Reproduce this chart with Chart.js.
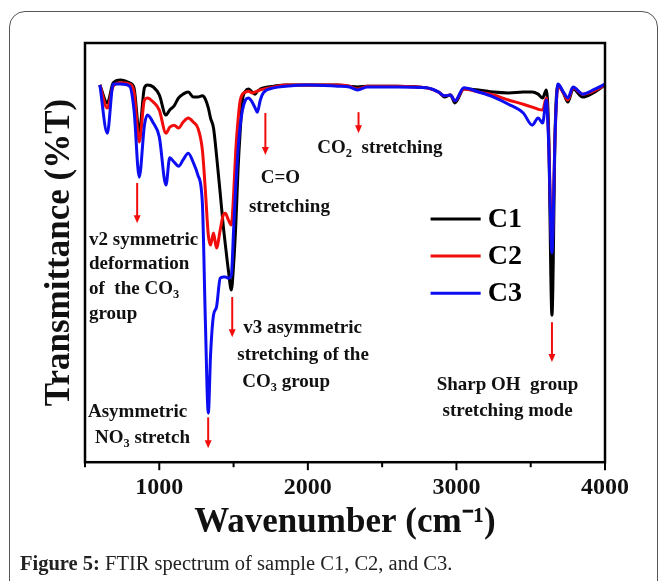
<!DOCTYPE html>
<html>
<head>
<meta charset="utf-8">
<script src="https://cdn.jsdelivr.net/npm/chart.js@4.4.1/dist/chart.umd.min.js"></script>
<style>
  html, body { margin: 0; padding: 0; background: #fff; }
  body { width: 660px; height: 581px; position: relative; overflow: hidden; }
  #frame {
    position: absolute; left: 9px; top: 11px; width: 649px; height: 620px;
    border: 1px solid #555; border-radius: 16px; box-sizing: border-box;
  }
  #chart { position: absolute; left: 0; top: 0; }
  #caption {
    position: absolute; left: 20px; top: 551px;
    font-family: 'Liberation Serif', 'Times New Roman', serif;
    font-size: 20.5px; line-height: 24px; color: #222; white-space: nowrap;
  }
</style>
</head>
<body>
<div id="frame"></div>
<canvas id="chart" width="660" height="581"></canvas>
<div id="caption"><b>Figure 5:</b> FTIR spectrum of sample C1, C2, and C3.</div>
<script>
// wavenumber grid (cm-1) shared by the three spectra
const wavenumbers = [600, 650, 690, 740, 800, 830, 865, 900, 920, 960, 1000, 1045, 1070, 1100, 1130, 1160, 1195, 1230, 1260, 1290,
  1310, 1330, 1345, 1365, 1385, 1410, 1430, 1445, 1465, 1485, 1500, 1515, 1530, 1545, 1560, 1580, 1600, 1625, 1645, 1660,
  1680, 1700, 1770, 1850, 2000, 2200, 2280, 2335, 2400, 2600, 2800, 2880, 2920, 2960, 2990, 3050, 3150, 3250, 3350, 3450,
  3510, 3550, 3580, 3605, 3620, 3643, 3665, 3683, 3720, 3750, 3785, 3850, 3920, 4000];

// transmittance (%T)
const c1 = [90.0, 85.7, 90.5, 91.2, 90.5, 89.3, 78.8, 89.3, 90.0, 89.5, 87.6, 82.8, 84.0, 85.0, 86.9, 87.8, 88.3, 87.1, 87.1, 87.4,
  86.6, 84.5, 82.1, 79.7, 73.3, 64.2, 56.6, 51.8, 45.8, 41.1, 47.0, 56.6, 69.7, 79.2, 86.4, 88.5, 89.0, 88.3, 87.8, 88.5,
  89.0, 89.3, 89.7, 90.0, 90.0, 90.0, 89.7, 89.5, 89.7, 89.7, 89.3, 88.3, 87.1, 87.6, 85.7, 89.0, 88.8, 88.3, 88.1, 88.3,
  88.3, 87.8, 86.9, 88.8, 80.0, 35.1, 80.0, 90.0, 88.1, 85.9, 89.0, 87.1, 88.1, 90.0];
const c2 = [90.0, 84.5, 89.7, 90.5, 90.2, 88.3, 76.4, 86.4, 86.9, 85.9, 84.0, 78.5, 79.9, 80.4, 79.7, 81.1, 82.1, 81.1, 79.7, 74.5,
  64.9, 54.2, 51.8, 54.7, 51.1, 55.4, 58.9, 59.4, 57.8, 56.6, 63.7, 74.5, 81.6, 86.4, 87.8, 88.3, 88.5, 88.1, 88.3, 88.5,
  88.8, 89.0, 89.5, 90.0, 90.0, 90.0, 89.7, 89.0, 89.7, 89.7, 89.3, 88.3, 87.4, 87.6, 86.2, 89.0, 88.3, 87.6, 86.4, 85.4,
  84.7, 84.2, 84.0, 86.9, 78.0, 51.8, 79.2, 89.7, 88.1, 86.4, 89.3, 87.8, 88.5, 90.0];
const c3 = [90.0, 78.5, 90.2, 90.2, 89.7, 84.0, 68.0, 80.4, 82.8, 80.9, 77.6, 66.1, 72.6, 71.6, 70.6, 72.1, 73.7, 71.4, 68.5, 61.8,
  33.9, 11.7, 25.5, 35.1, 37.0, 43.9, 44.2, 44.2, 43.9, 44.6, 55.4, 66.1, 74.5, 80.4, 84.0, 86.4, 86.9, 85.9, 84.5, 83.5,
  86.4, 88.1, 89.3, 89.7, 90.0, 89.7, 89.5, 88.8, 89.5, 89.5, 89.3, 88.3, 87.4, 87.6, 86.2, 89.3, 88.3, 87.1, 85.4, 83.3,
  80.4, 82.1, 80.9, 86.4, 76.8, 49.9, 79.2, 90.2, 88.3, 86.9, 89.5, 87.8, 88.8, 90.2];

const seriesNames = ['C1', 'C2', 'C3'];
const seriesColors = ['#000000', '#f20d0d', '#0d0df2'];

// red marker arrows: wavenumber, top and tip in %T
const arrowWn = [851, 1714, 2341, 1491, 1329, 3643];
const arrowTop = [66.6, 83.3, 83.5, 39.4, 10.7, 33.4];
const arrowTip = [57.0, 73.3, 78.5, 29.8, 3.3, 23.9];

// band labels ("_3" = subscript), anchored in data units
const labelText = ['v2 symmetric', 'deformation', 'of  the CO_3', 'group', 'C=O', 'stretching', 'CO_2  stretching',
  'v3 asymmetric', 'stretching of the', 'CO_3 group', 'Asymmetric', 'NO_3 stretch', 'Sharp OH  group', 'stretching mode'];
const labelWn = [527, 527, 527, 527, 1815, 1876, 2064, 1565, 1525, 1559, 520, 567, 2867, 2907];
const labelT = [53.0, 47.3, 41.3, 35.3, 67.8, 60.9, 74.9, 32.0, 25.5, 19.1, 11.9, 5.7, 18.4, 12.2];
const labelAlign = ['left', 'left', 'left', 'left', 'center', 'center', 'left', 'left', 'left', 'left', 'left', 'left', 'left', 'left'];

// legend placement in data units
const legendLineWn = [2826, 3163];
const legendTextWn = 3211;
const legendT = [58.0, 49.2, 40.3];

const SERIF = "'Liberation Serif', 'Times New Roman', serif";

function drawRich(ctx, str, x, y, size, align) {
  const parts = str.split(/_(\d)/);
  let total = 0;
  parts.forEach((p, i) => {
    ctx.font = 'bold ' + (i % 2 ? size * 0.65 : size) + 'px ' + SERIF;
    total += ctx.measureText(p).width;
  });
  let cx = align === 'center' ? x - total / 2 : x;
  ctx.textAlign = 'left';
  ctx.textBaseline = 'middle';
  parts.forEach((p, i) => {
    const sub = i % 2 === 1;
    ctx.font = 'bold ' + (sub ? size * 0.65 : size) + 'px ' + SERIF;
    ctx.fillText(p, cx, sub ? y + size * 0.3 : y);
    cx += ctx.measureText(p).width;
  });
}

const decorations = {
  id: 'decorations',
  afterDatasetsDraw(chart) {
    const { ctx, chartArea: a, scales: { x, y } } = chart;
    ctx.save();
    // frame
    ctx.strokeStyle = '#000';
    ctx.lineWidth = 2.5;
    ctx.strokeRect(a.left, a.top, a.right - a.left, a.bottom - a.top);
    // x ticks, pointing out
    ctx.lineWidth = 2;
    for (let v = 500; v <= 4000; v += 500) {
      const px = x.getPixelForValue(v);
      ctx.beginPath();
      ctx.moveTo(px, a.bottom);
      ctx.lineTo(px, a.bottom + (v % 1000 === 0 ? 8 : 5));
      ctx.stroke();
    }
    // arrows
    ctx.strokeStyle = '#f20d0d';
    ctx.fillStyle = '#f20d0d';
    ctx.lineWidth = 2;
    arrowWn.forEach((w, i) => {
      const px = x.getPixelForValue(w);
      const y0 = y.getPixelForValue(arrowTop[i]);
      const y1 = y.getPixelForValue(arrowTip[i]);
      ctx.beginPath();
      ctx.moveTo(px, y0);
      ctx.lineTo(px, y1 - 6);
      ctx.stroke();
      ctx.beginPath();
      ctx.moveTo(px - 3.5, y1 - 8);
      ctx.lineTo(px + 3.5, y1 - 8);
      ctx.lineTo(px, y1);
      ctx.closePath();
      ctx.fill();
    });
    // labels
    ctx.fillStyle = '#111';
    labelText.forEach((t, i) => {
      drawRich(ctx, t, x.getPixelForValue(labelWn[i]), y.getPixelForValue(labelT[i]), 19, labelAlign[i]);
    });
    // legend
    seriesNames.forEach((n, i) => {
      const py = y.getPixelForValue(legendT[i]);
      ctx.strokeStyle = seriesColors[i];
      ctx.lineWidth = 3;
      ctx.beginPath();
      ctx.moveTo(x.getPixelForValue(legendLineWn[0]), py);
      ctx.lineTo(x.getPixelForValue(legendLineWn[1]), py);
      ctx.stroke();
      ctx.fillStyle = '#000';
      ctx.font = 'bold 28px ' + SERIF;
      ctx.textAlign = 'left';
      ctx.textBaseline = 'middle';
      ctx.fillText(n, x.getPixelForValue(legendTextWn), py + 1);
    });
    ctx.restore();
  }
};

const series = [c1, c2, c3];
const datasets = series.map((vals, i) => ({
  label: seriesNames[i],
  data: wavenumbers.map((w, j) => ({ x: w, y: vals[j] })),
  borderColor: seriesColors[i],
  borderWidth: 3,
  pointRadius: 0,
  cubicInterpolationMode: 'monotone',
  fill: false,
  order: 3 - i
}));

new Chart(document.getElementById('chart'), {
  type: 'line',
  data: { datasets },
  options: {
    responsive: false,
    animation: false,
    devicePixelRatio: 1,
    layout: { padding: { left: 35, top: 43, right: 55, bottom: 37 } },
    plugins: { legend: { display: false }, tooltip: { enabled: false } },
    scales: {
      x: {
        type: 'linear',
        min: 500,
        max: 4000,
        grid: { display: true, drawOnChartArea: false, color: 'rgba(0,0,0,0)', tickLength: 8 },
        border: { display: false },
        ticks: {
          stepSize: 500,
          color: '#111',
          maxRotation: 0,
          autoSkip: false,
          font: { family: SERIF, size: 24, weight: 'bold' },
          callback: v => (v % 1000 === 0 ? String(v) : '')
        },
        title: {
          display: true,
          text: 'Wavenumber (cm⁻¹)',
          color: '#111',
          font: { family: SERIF, size: 35, weight: 'bold', lineHeight: 1 },
          padding: { top: 0, bottom: 4 }
        }
      },
      y: {
        min: 0,
        max: 100,
        grid: { display: false, drawTicks: false },
        border: { display: false },
        ticks: { display: false },
        title: {
          display: true,
          text: 'Transmittance (%T)',
          color: '#111',
          font: { family: SERIF, size: 35, weight: 'bold' },
          padding: { top: 4, bottom: 4 }
        }
      }
    }
  },
  plugins: [decorations]
});
</script>
</body>
</html>
